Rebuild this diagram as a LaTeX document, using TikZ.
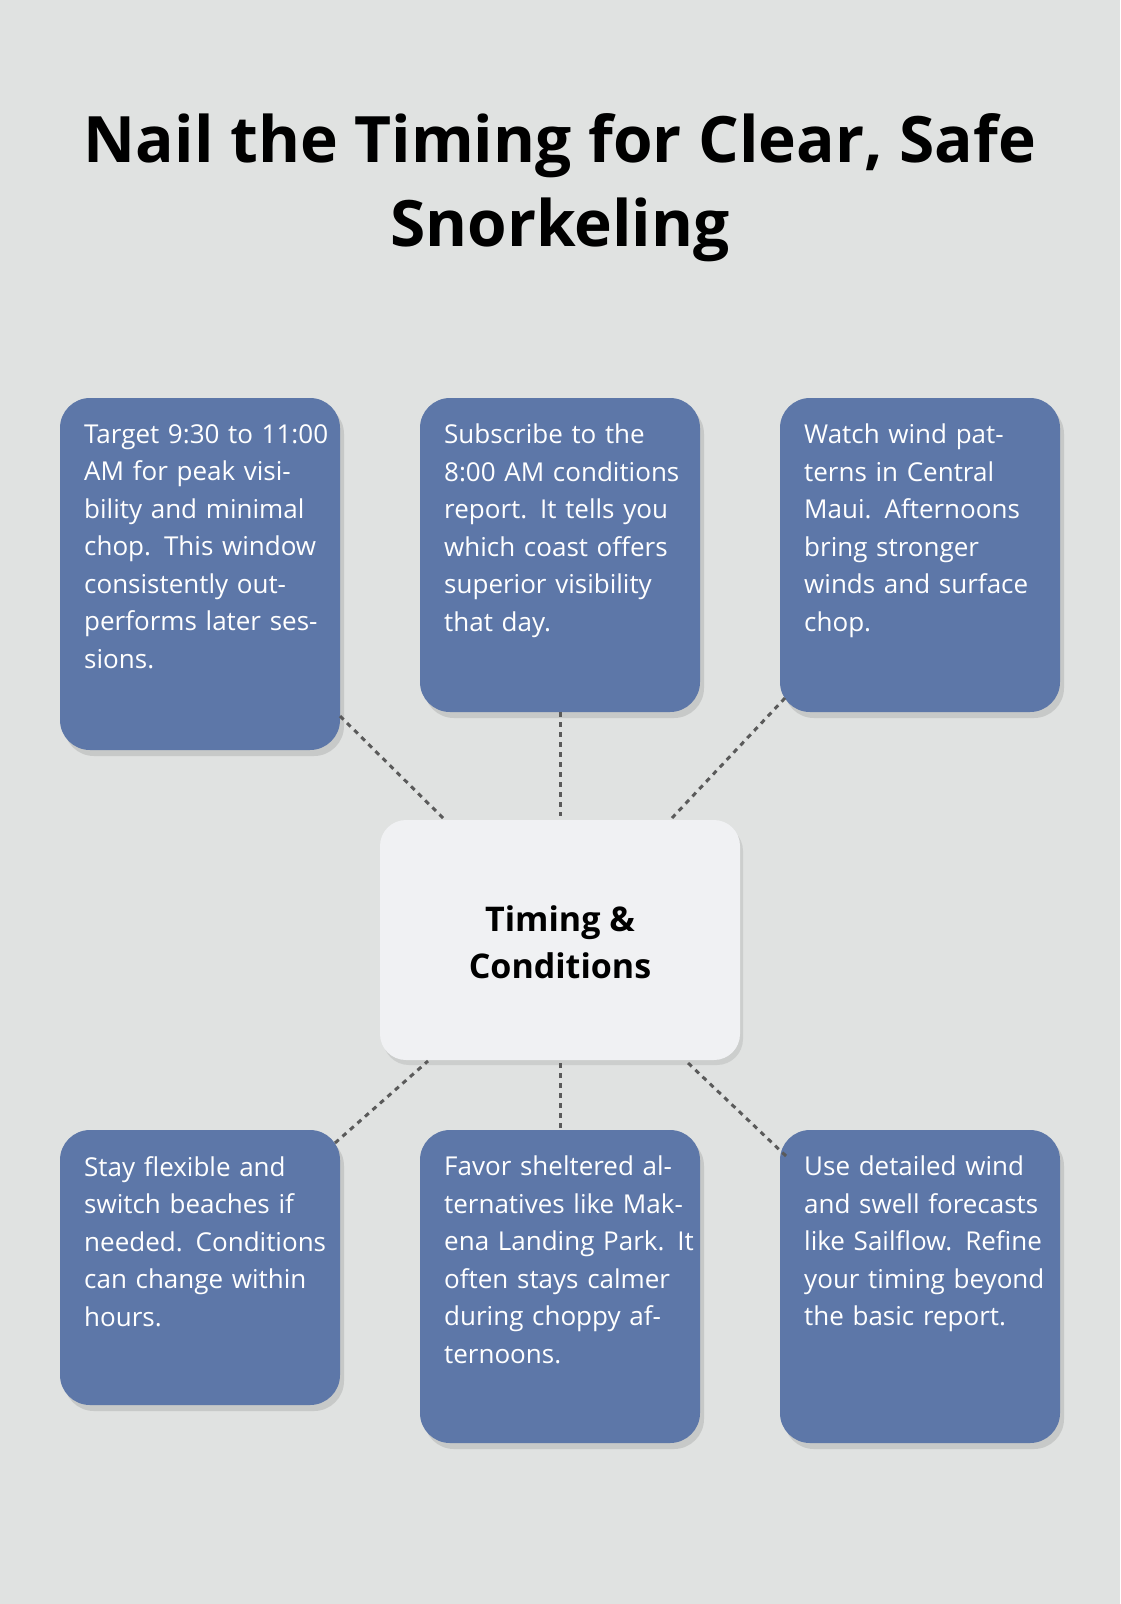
\documentclass[tikz,border=0pt]{standalone}
\usepackage{fontspec}
\setmainfont{Open Sans}
\usetikzlibrary{shadows}
\definecolor{bg}{HTML}{E0E2E1}
\definecolor{boxc}{HTML}{5D77A8}
\definecolor{cen}{HTML}{F0F1F3}
\definecolor{ln}{HTML}{5A5A5A}
\begin{document}
\begin{tikzpicture}[x=1pt,y=-1pt,
 box/.style={fill=boxc,rounded corners=30pt,drop shadow={shadow xshift=4pt,shadow yshift=-6pt,opacity=0.25}},
 txt/.style={anchor=north west,text=white,text width=250pt,align=left,inner sep=0pt,font=\fontsize{26}{37.5}\selectfont},
 con/.style={draw=ln,line width=3pt,dash pattern=on 5pt off 5pt}]
\useasboundingbox[fill=bg] (0,0) rectangle (1120,1604);
\node[font=\bfseries\fontsize{64}{84}\selectfont,align=center] (title) at (560,188) {Nail the Timing for Clear, Safe\\Snorkeling};
\path[box] (60,398) rectangle (340,750);
\path[box] (420,398) rectangle (700,712);
\path[box] (780,398) rectangle (1060,712);
\path[box] (60,1130) rectangle (340,1405);
\path[box] (420,1130) rectangle (700,1443);
\path[box] (780,1130) rectangle (1060,1443);
\path[fill=cen,rounded corners=26pt,drop shadow={shadow xshift=3pt,shadow yshift=-5pt,opacity=0.2}] (380,820) rectangle (740,1060);
\node[font=\bfseries\fontsize{34}{47}\selectfont,align=center] (c) at (560,942) {Timing \&\\Conditions};
\node[txt] (t1) at (84,424) {Target 9:30 to 11:00 AM for peak visibility and minimal chop. This window consistently outperforms later sessions.};
\node[txt] (t2) at (444,424) {Subscribe to the 8:00 AM conditions report. It tells you which coast offers superior visibility that day.};
\node[txt] (t3) at (804,424) {Watch wind patterns in Central Maui. Afternoons bring stronger winds and surface chop.};
\node[txt] (t4) at (84,1156) {Stay flexible and switch beaches if needed. Conditions can change within hours.};
\node[txt] (t5) at (444,1156) {Favor sheltered alternatives like Makena Landing Park. It often stays calmer during choppy afternoons.};
\node[txt] (t6) at (804,1156) {Use detailed wind and swell forecasts like Sailflow. Refine your timing beyond the basic report.};
\coordinate (a1) at (340,716); \coordinate (b1) at (443,818);
\coordinate (a2) at (560,712); \coordinate (b2) at (560,816);
\coordinate (a3) at (785,698); \coordinate (b3) at (672,818);
\coordinate (a4) at (335,1143); \coordinate (b4) at (428,1061);
\coordinate (a5) at (560,1128); \coordinate (b5) at (560,1063);
\coordinate (a6) at (786,1156); \coordinate (b6) at (686,1061);
\foreach \i in {1,...,6}{\draw[con] (a\i) -- (b\i);}
\end{tikzpicture}
\end{document}
